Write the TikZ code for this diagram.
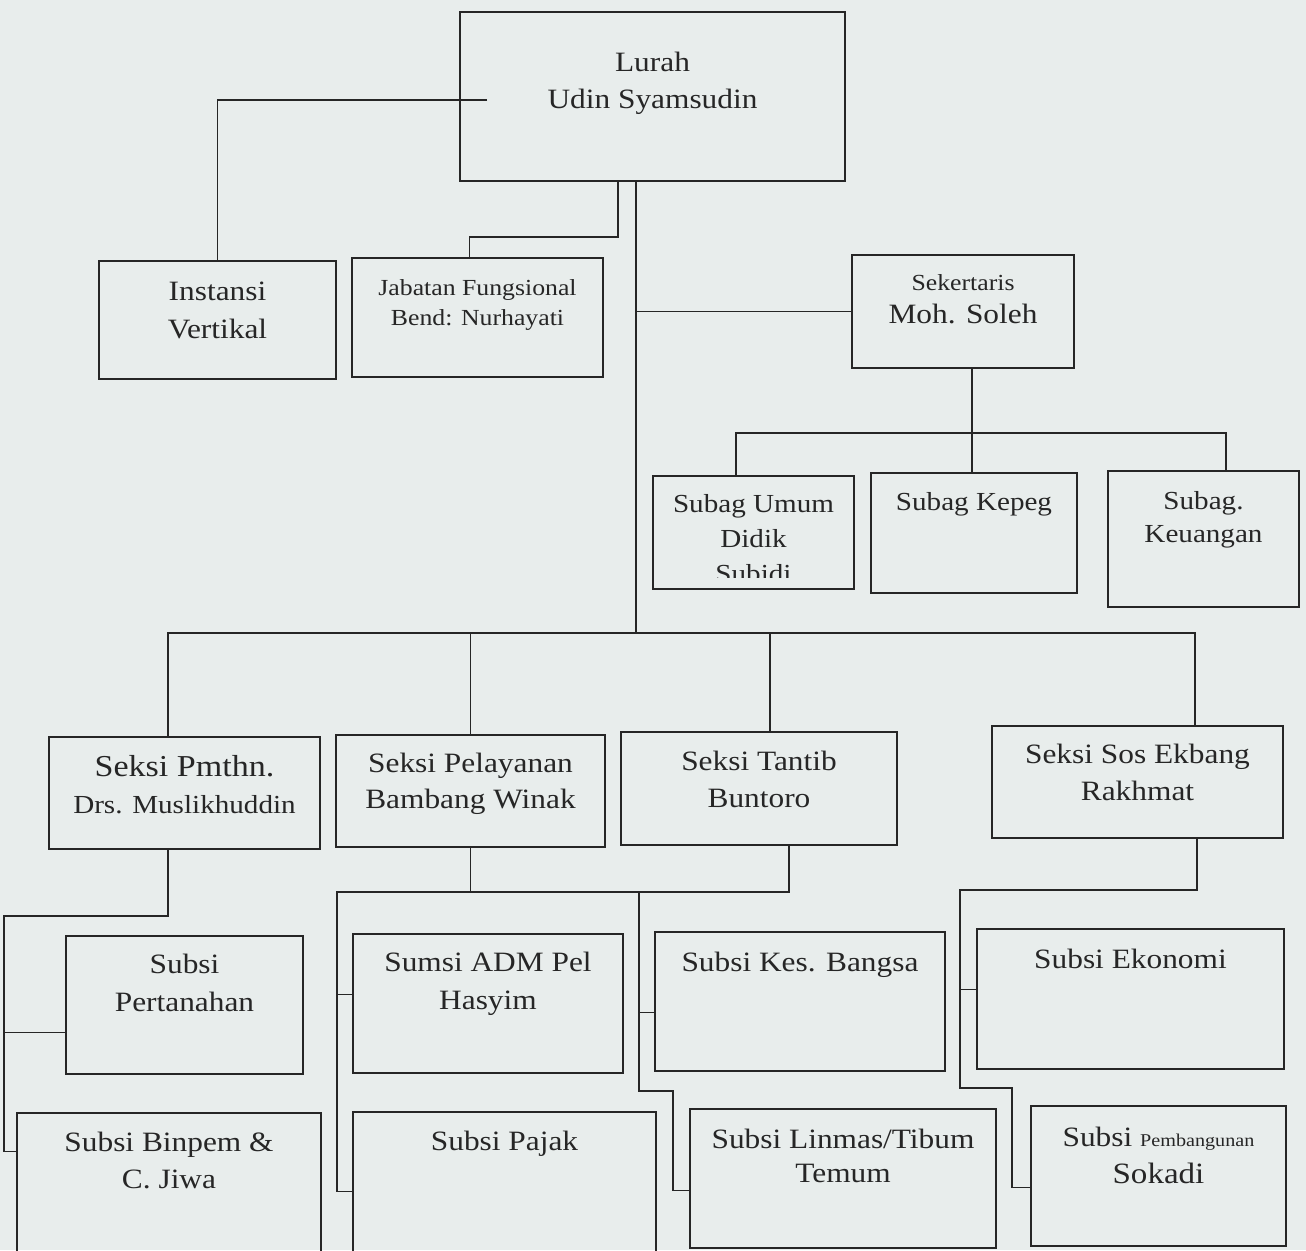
\documentclass[tikz,border=0pt]{standalone}
\usepackage{fontspec}
\setmainfont[FakeStretch=1.12]{Liberation Serif}
\usetikzlibrary{positioning,calc}
\definecolor{paper}{RGB}{232,237,236}
\definecolor{ink}{RGB}{38,38,38}
\tikzset{
	box/.style={draw=ink,line width=1.4pt,inner sep=0pt,rectangle},
	lbl/.style={anchor=north,inner sep=0pt,align=center,text=ink,font=\fontsize{28}{37}\selectfont},
	con/.style={draw=ink,line width=1.4pt}
}

\begin{document}
\begin{tikzpicture}[x=1pt,y=-1pt]
		\clip (0,0) rectangle (1306,1250);
		\fill[paper] (0,0) rectangle (1306,1250);
		% top
		\node[box,minimum width=385pt,minimum height=169pt] (lurah) at (652.5,96.5) {};
		\node[box,minimum width=237pt,minimum height=118pt] (instansi) at (217.5,320) {};
		\node[box,minimum width=251pt,minimum height=119pt] (jabatan) at (477.5,317.5) {};
		\node[box,minimum width=222pt,minimum height=113pt] (sekr) at (963,311.5) {};
		\node[box,minimum width=201pt,minimum height=113pt] (umum) at (753.5,532.5) {};
		\node[box,minimum width=206pt,minimum height=120pt] (kepeg) at (974,533) {};
		\node[box,minimum width=191pt,minimum height=136pt] (keu) at (1203.5,539) {};
		% seksi
		\node[box,minimum width=271pt,minimum height=112pt] (pmthn) at (184.5,793) {};
		\node[box,minimum width=269pt,minimum height=112pt] (pelay) at (470.5,791) {};
		\node[box,minimum width=276pt,minimum height=113pt] (tantib) at (759,788.5) {};
		\node[box,minimum width=291pt,minimum height=112pt] (ekbang) at (1137.5,782) {};
		% subsi
		\node[box,minimum width=237pt,minimum height=138pt] (pertan) at (184.5,1005) {};
		\node[box,minimum width=270pt,minimum height=139pt] (adm) at (488,1003.5) {};
		\node[box,minimum width=290pt,minimum height=139pt] (kes) at (800,1001.5) {};
		\node[box,minimum width=307pt,minimum height=140pt] (ekon) at (1130.5,999) {};
		\node[box,minimum width=304pt,minimum height=157pt] (binpem) at (169,1191.5) {};
		\node[box,minimum width=303pt,minimum height=158pt] (pajak) at (504.5,1191) {};
		\node[box,minimum width=306pt,minimum height=139pt] (linmas) at (843,1178.5) {};
		\node[box,minimum width=255pt,minimum height=140pt] (pemb) at (1158.5,1176) {};

		% texts
		\node[lbl,below=41pt] (lurahT) at (lurah.north) {Lurah\\Udin Syamsudin};
		\node[lbl,below=21pt,font=\fontsize{28}{38}\selectfont] (instansiT) at (instansi.north) {Instansi\\Vertikal};
		\node[lbl,below=22pt,font=\fontsize{23}{30}\selectfont] (jabatanT) at (jabatan.north) {Jabatan Fungsional\\Bend: Nurhayati};
		\node[lbl,below=20pt] (sekrT) at (sekr.north) {{\fontsize{23}{30}\selectfont Sekertaris}\\[-4pt]Moh. Soleh};
		\begin{scope}
			\clip (umum.north west) rectangle ([yshift=12pt]umum.south east);
			\node[lbl,below=19pt,font=\fontsize{26}{35}\selectfont] (umumT) at (umum.north) {Subag Umum\\Didik\\Subidi};
		\end{scope}
		\node[lbl,below=20pt,font=\fontsize{26}{35}\selectfont] (kepegT) at (kepeg.north) {Subag Kepeg};
		\node[lbl,below=21pt,font=\fontsize{26}{33}\selectfont] (keuT) at (keu.north) {Subag.\\Keuangan};
		\node[lbl,below=19pt] (pmthnT) at (pmthn.north) {{\fontsize{30.4}{37}\selectfont Seksi Pmthn.}\\{\fontsize{26}{37}\selectfont Drs. Muslikhuddin}};
		\node[lbl,below=19pt,font=\fontsize{28}{36}\selectfont] (pelayT) at (pelay.north) {Seksi Pelayanan\\Bambang Winak};
		\node[lbl,below=20pt] (tantibT) at (tantib.north) {Seksi Tantib\\Buntoro};
		\node[lbl,below=19pt] (ekbangT) at (ekbang.north) {Seksi Sos Ekbang\\Rakhmat};
		\node[lbl,below=19pt,font=\fontsize{28}{38}\selectfont] (pertanT) at (pertan.north) {Subsi\\Pertanahan};
		\node[lbl,below=19pt,font=\fontsize{28}{38}\selectfont] (admT) at (adm.north) {Sumsi ADM Pel\\Hasyim};
		\node[lbl,below=21pt] (kesT) at (kes.north) {Subsi Kes. Bangsa};
		\node[lbl,below=21pt] (ekonT) at (ekon.north) {Subsi Ekonomi};
		\node[lbl,below=20pt] (binpemT) at (binpem.north) {Subsi Binpem \&\\C. Jiwa};
		\node[lbl,below=20pt] (pajakT) at (pajak.north) {Subsi Pajak};
		\node[lbl,below=21pt,font=\fontsize{28}{34}\selectfont] (linmasT) at (linmas.north) {Subsi Linmas/Tibum\\Temum};
		\node[lbl,below=22pt] (pembT) at (pemb.north) {Subsi {\fontsize{18}{37}\selectfont Pembangunan}\\{\fontsize{29.5}{38}\selectfont Sokadi}};

		% lines from lurah
		\coordinate (lk) at (487,100);
		\draw[con] (lk) -| (instansi.north);
		\coordinate (jk) at (618,237);
		\draw[con] (jk |- lurah.south) -- (jk) -| ([xshift=-8pt]jabatan.north);
		\coordinate (tr) at (636,633);
		\draw[con] (tr |- lurah.south) -- (tr);
		\draw[con] (tr |- sekr.west) -- (sekr.west);
		% sekertaris to subag
		\coordinate (sb) at (972,433);
		\coordinate (sb1) at (736,433);
		\coordinate (sb2) at (1226,433);
		\draw[con] (sb |- sekr.south) -- (sb |- kepeg.north);
		\draw[con] (sb1 |- umum.north) -- (sb1) -- (sb2) -- (sb2 |- keu.north);
		% bus to seksi
		\coordinate (b1) at (168,633);
		\coordinate (b3) at (770,633);
		\coordinate (b4) at (1195,633);
		\draw[con] (b1 |- pmthn.north) -- (b1) -- (b4) -- (b4 |- ekbang.north);
		\draw[con] (pelay.north) -- (pelay.north |- b1);
		\draw[con] (b3) -- (b3 |- tantib.north);
		% pmthn
		\coordinate (p1) at (168,916);
		\coordinate (p2) at (4,916);
		\coordinate (pt) at ([yshift=-97pt]pertan.north west);
		\draw[con] (p1 |- pmthn.south) -- (p1) -- (p2) |- ([yshift=-39pt]binpem.north west);
		\draw[con] (p2 |- pt) -- (pt);
		% pelayanan and tantib
		\coordinate (m1) at (337,892);
		\coordinate (m2) at (789,892);
		\coordinate (m3) at (639,892);
		\coordinate (m4) at (673,1091);
		\coordinate (ma) at ([yshift=-61pt]adm.north west);
		\coordinate (mk) at ([yshift=-81pt]kes.north west);
		\draw[con] (pelay.south) -- (pelay.south |- m1);
		\draw[con] (m2 |- tantib.south) -- (m2) -- (m1) |- ([yshift=-80pt]pajak.north west);
		\draw[con] (m1 |- ma) -- (ma);
		\draw[con] (m3) |- (m4) |- ([yshift=-82pt]linmas.north west);
		\draw[con] (m3 |- mk) -- (mk);
		% sos ekbang
		\coordinate (r1) at (1197,890);
		\coordinate (r2) at (960,890);
		\coordinate (r3) at (1012,1088);
		\coordinate (re) at ([yshift=-61pt]ekon.north west);
		\draw[con] (r1 |- ekbang.south) -- (r1) -- (r2) |- (r3) |- ([yshift=-82pt]pemb.north west);
		\draw[con] (r2 |- re) -- (re);
\end{tikzpicture}
\end{document}
